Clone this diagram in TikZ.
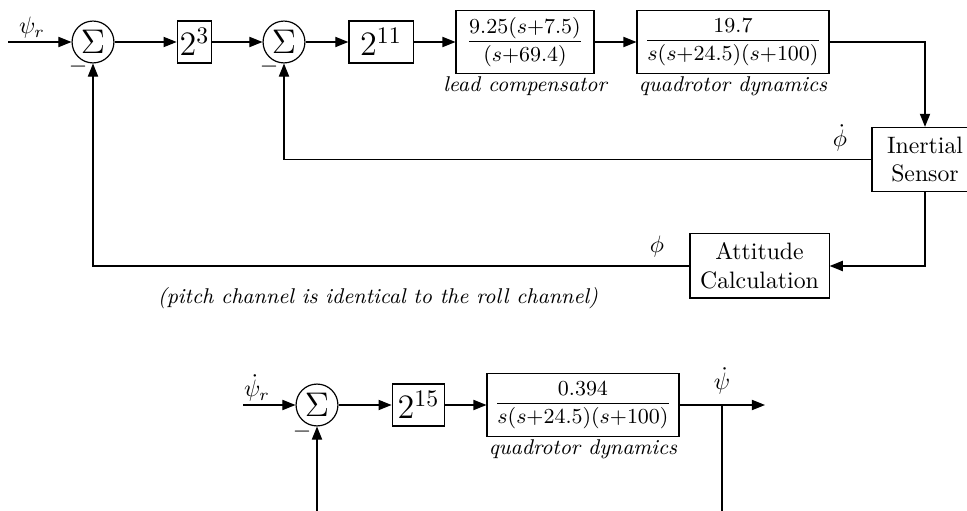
\documentclass[tikz,border=0pt]{standalone}
\usepackage{amsmath,amssymb}
\usetikzlibrary{arrows.meta}

\begin{document}
\begin{tikzpicture}[x=0.0148cm, y=-0.0148cm, line width=0.5pt,
  sumnode/.style={draw, circle, minimum size=0.62cm, inner sep=0pt, font=\Large},
  gainbox/.style={draw, minimum height=0.62cm, inner sep=1pt, font=\Large},
  tfbox/.style={draw, minimum height=0.93cm, inner sep=1pt, font=\small},
  blockbox/.style={draw, align=center, minimum height=0.95cm, inner sep=2pt},
  caption/.style={font=\small\itshape, inner sep=1pt},
  sig/.style={inner sep=0pt},
  arr/.style={-{Triangle[length=5.5pt,width=4.3pt]}}]

\useasboundingbox (0,0) rectangle (967,511);

% Roll channel, forward path
\coordinate (in1) at (8,42);
\node[sumnode] (sum1) at (93,42) {$\Sigma$};
\node[gainbox, minimum width=0.49cm] (gain1) at (194.5,42) {$2^3$};
\node[sumnode] (sum2) at (284,42) {$\Sigma$};
\node[gainbox, minimum width=0.95cm] (gain2) at (381,42) {$2^{11}$};
\node[tfbox, minimum width=2.04cm] (lead) at (525,42) {$\dfrac{9.25(s{+}7.5)}{(s{+}69.4)}$};
\node[tfbox, minimum width=2.84cm] (dyn) at (733,42) {$\dfrac{19.7}{s(s{+}24.5)(s{+}100)}$};
\node[caption, below] (leadlbl) at (lead.south) {lead compensator};
\node[caption, below] (dynlbl) at (dyn.south) {quadrotor dynamics};

% Sensor and attitude blocks
\node[blockbox, minimum width=1.57cm] (sensor) at (925,159.5) {Inertial\\Sensor};
\node[blockbox, minimum width=2.06cm] (att) at (759.5,266) {Attitude\\Calculation};

\draw[arr] (in1) -- (sum1);
\draw[arr] (sum1) -- (gain1);
\draw[arr] (gain1) -- (sum2);
\draw[arr] (sum2) -- (gain2);
\draw[arr] (gain2) -- (lead);
\draw[arr] (lead) -- (dyn);
\draw[arr] (dyn.east) -| (sensor.north);
\draw[arr] (sensor.west) -| (sum2.south);
\draw[arr] (sensor.south) |- (att.east);
\draw[arr] (att.west) -| (sum1.south);

% Signal labels
\node[sig] (psir) at (32,28) {$\psi_r$};
\node[sig] (phidot) at (840,138) {$\dot{\phi}$};
\node[sig] (phi) at (657,247) {$\phi$};
\node[sig] (minus1) at (78,67) {$-$};
\node[sig] (minus2) at (269,67) {$-$};
\node[caption] (note) at (378,298) {(pitch channel is identical to the roll channel)};

% Yaw channel
\coordinate (in3) at (243,405);
\node[sumnode] (sum3) at (317,405) {$\Sigma$};
\node[gainbox, minimum width=0.78cm] (gain3) at (418.5,405) {$2^{15}$};
\node[tfbox, minimum width=2.84cm] (dyn3) at (583,405) {$\dfrac{0.394}{s(s{+}24.5)(s{+}100)}$};
\node[caption, below] (dyn3lbl) at (dyn3.south) {quadrotor dynamics};
\coordinate (out3) at (765,405);
\coordinate (tap3) at (722,405);
\coordinate (fbend) at (722,520);
\coordinate (fbstart) at (317,520);

\draw[arr] (in3) -- (sum3);
\draw[arr] (sum3) -- (gain3);
\draw[arr] (gain3) -- (dyn3);
\draw[arr] (dyn3) -- (out3);
\draw (tap3) -- (fbend);
\draw[arr] (fbstart) -- (sum3.south);

\node[sig] (psirdot) at (257,388) {$\dot{\psi}_r$};
\node[sig] (psidot) at (722,381) {$\dot{\psi}$};
\node[sig] (minus3) at (302,432) {$-$};

\end{tikzpicture}
\end{document}
